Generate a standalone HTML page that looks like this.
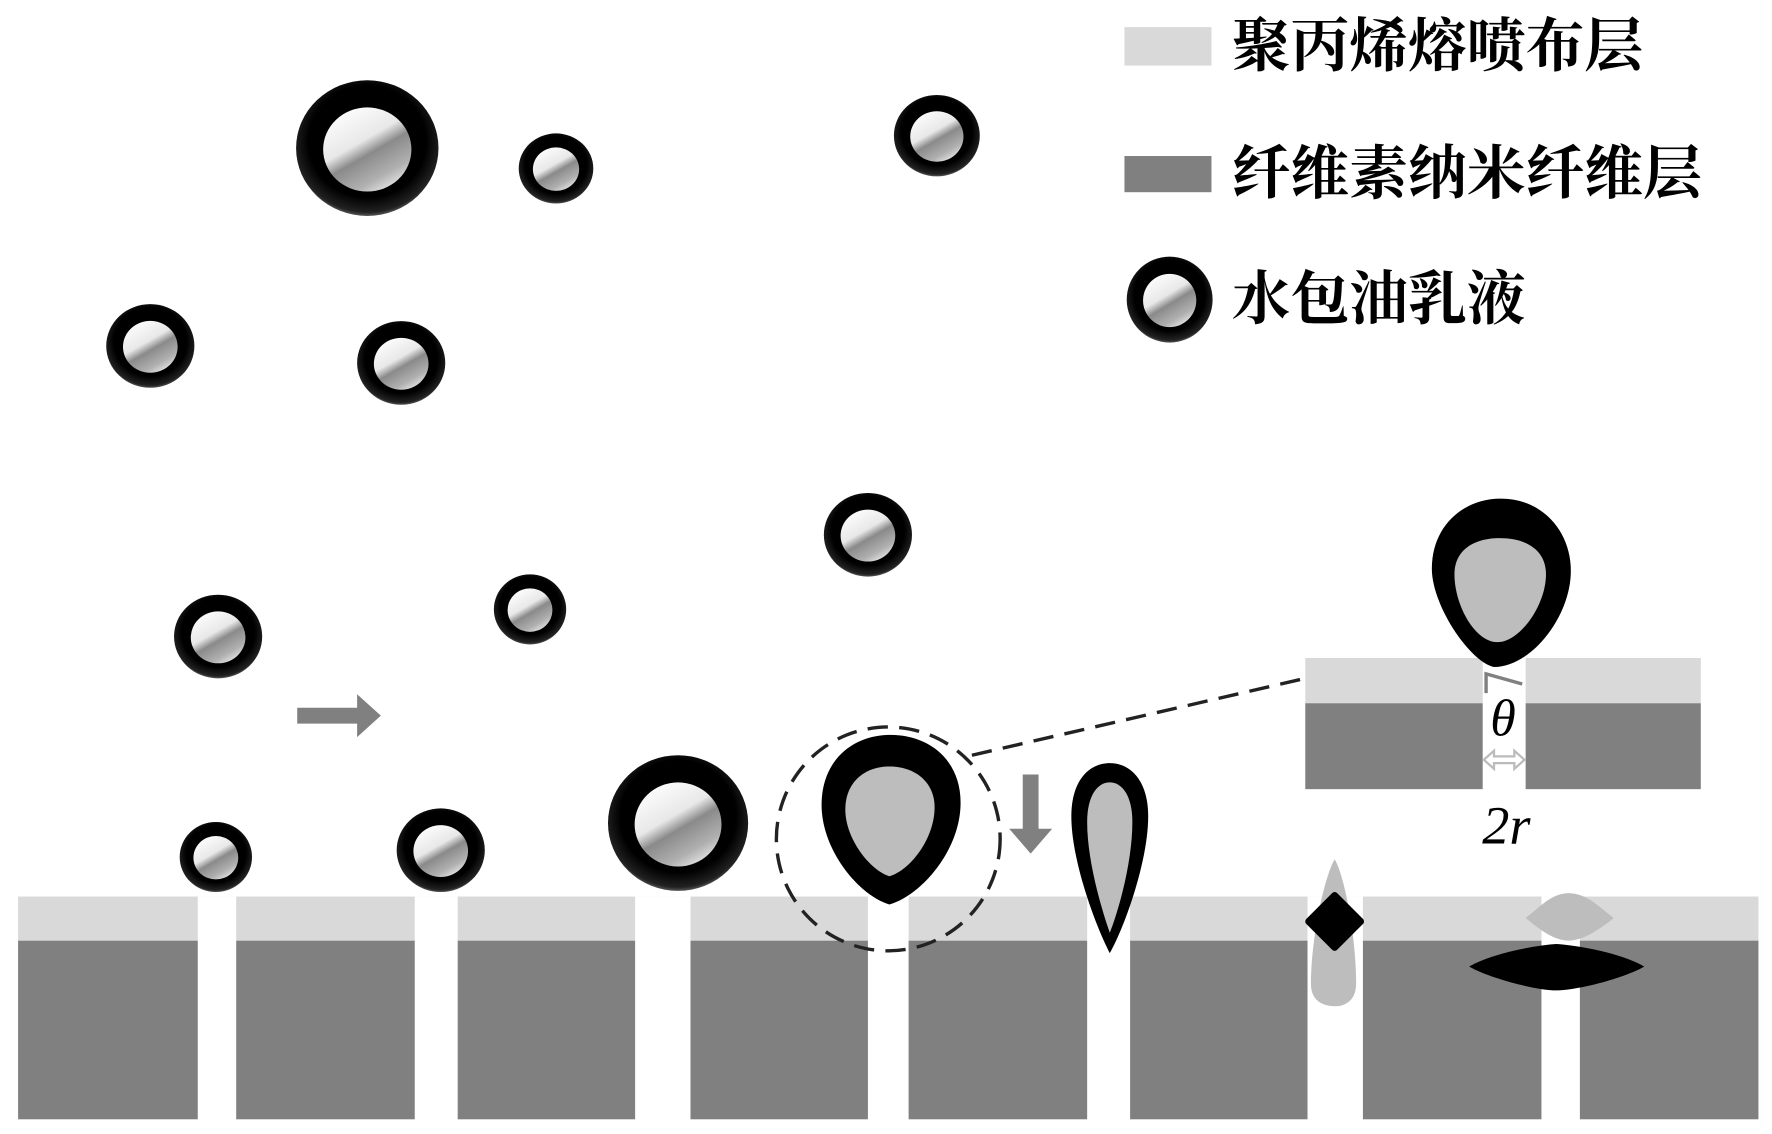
<!DOCTYPE html>
<html><head><meta charset="utf-8"><style>
html,body{margin:0;padding:0;background:#fff;}
svg{display:block;}
</style></head><body>
<svg width="1772" height="1134" viewBox="0 0 1568 1003" preserveAspectRatio="none" xmlns="http://www.w3.org/2000/svg">
<defs>
<radialGradient id="shell" cx="0.5" cy="0.45" r="0.55">
<stop offset="0.75" stop-color="#000"/><stop offset="0.95" stop-color="#222"/><stop offset="1" stop-color="#555"/>
</radialGradient>
<linearGradient id="core" x1="0.2" y1="0" x2="0.8" y2="1">
<stop offset="0" stop-color="#fff"/><stop offset="0.4" stop-color="#e8e8e8"/><stop offset="0.55" stop-color="#8a8a8a"/><stop offset="0.8" stop-color="#b0b0b0"/><stop offset="1" stop-color="#f0f0f0"/>
</linearGradient>
<g id="drop"><circle r="1" fill="url(#shell)"/><circle r="0.62" cy="0.02" fill="url(#core)"/></g>
</defs>
<rect width="1568" height="1003" fill="#fff"/>

<!-- legend -->
<rect x="995" y="24" width="77" height="34" fill="#d9d9d9"/>
<rect x="995" y="138" width="77" height="32" fill="#808080"/>
<use href="#drop" transform="translate(1035,265) scale(38,38)"/>
<g font-family="'Liberation Serif','Noto Serif CJK SC','Noto Sans CJK SC',serif" font-size="52" font-weight="bold" fill="#000" dominant-baseline="central">
<text x="1090" y="41">聚丙烯熔喷布层</text>
<text x="1090" y="154">纤维素纳米纤维层</text>
<text x="1090" y="265">水包油乳液</text>
</g>

<!-- droplets -->
<use href="#drop" transform="translate(325,131) scale(63,60)"/>
<use href="#drop" transform="translate(492,149) scale(33,31)"/>
<use href="#drop" transform="translate(829,120) scale(38,36)"/>
<use href="#drop" transform="translate(133,306) scale(39,37)"/>
<use href="#drop" transform="translate(355,321) scale(39,37)"/>
<use href="#drop" transform="translate(768,473) scale(39,37)"/>
<use href="#drop" transform="translate(193,563) scale(39,37)"/>
<use href="#drop" transform="translate(469,539) scale(32,31)"/>
<use href="#drop" transform="translate(191,758) scale(32,31)"/>
<use href="#drop" transform="translate(390,752) scale(39,37)"/>
<use href="#drop" transform="translate(600,728) scale(62,60)"/>

<!-- arrows -->
<path d="M263,626 H316 V614 L337,633 L316,652 V640 H263 Z" fill="#808080"/>
<path d="M905,685 H919 V733 H931 L912,755 L893,733 H905 Z" fill="#808080"/>

<!-- membrane -->
<g>
<rect x="16" y="793" width="1540" height="39" fill="#d9d9d9"/>
<rect x="16" y="832" width="1540" height="158" fill="#808080"/>
<rect x="175" y="793" width="34" height="200" fill="#fff"/>
<rect x="367" y="793" width="38" height="200" fill="#fff"/>
<rect x="562" y="793" width="49" height="200" fill="#fff"/>
<rect x="768" y="793" width="36" height="200" fill="#fff"/>
<rect x="962" y="793" width="38" height="200" fill="#fff"/>
<rect x="1157" y="793" width="49" height="200" fill="#fff"/>
<rect x="1364" y="793" width="34" height="200" fill="#fff"/>
</g>

<!-- circled droplet -->
<path d="M787,800 C760,792 727,752 727,712 C727,672 755,650 788,650 C822,650 850,672 850,710 C850,752 815,792 787,800 Z" fill="#000"/>
<path d="M787,775 C770,770 748,742 748,716 C748,692 765,678 787,678 C810,678 827,692 827,714 C827,742 805,770 787,775 Z" fill="#bdbdbd"/>
<circle cx="786" cy="742" r="99" fill="none" stroke="#222" stroke-width="3" stroke-dasharray="18,10"/>
<line x1="860" y1="668" x2="1155" y2="600" stroke="#222" stroke-width="3" stroke-dasharray="18,10"/>

<!-- elongated droplet -->
<path d="M982,843 C970,820 948,762 948,722 C948,690 964,675 982,675 C1000,675 1016,690 1016,722 C1016,762 995,820 982,843 Z" fill="#000"/>
<path d="M982,825 C975,805 962,762 962,727 C962,704 971,692 982,692 C993,692 1002,704 1002,727 C1002,762 990,805 982,825 Z" fill="#bdbdbd"/>

<!-- passing droplet -->
<path d="M1181,760 C1190,775 1200,830 1200,870 C1200,885 1190,890 1182,890 C1170,890 1160,885 1160,870 C1160,830 1172,775 1181,760 Z" fill="#bdbdbd"/>
<path d="M1181,792 L1204,815 L1181,838 L1158,815 Z" fill="#000" stroke="#000" stroke-width="6" stroke-linejoin="round"/>

<!-- spread droplets -->
<path d="M1388,790 C1405,790 1418,805 1428,812 C1418,820 1402,832 1388,832 C1374,832 1360,820 1350,812 C1360,805 1372,790 1388,790 Z" fill="#bdbdbd"/>
<path d="M1300,855 C1320,843 1360,836 1377,835 C1395,836 1435,843 1455,855 C1435,866 1395,876 1377,876 C1360,876 1320,866 1300,855 Z" fill="#000"/>

<!-- inset -->
<rect x="1155" y="582" width="350" height="40" fill="#d9d9d9"/>
<rect x="1155" y="622" width="350" height="76" fill="#808080"/>
<rect x="1312" y="582" width="38" height="118" fill="#fff"/>
<path d="M1322,590 C1300,585 1267,535 1267,503 C1267,465 1295,441 1328,441 C1365,441 1390,470 1390,505 C1390,545 1355,590 1322,590 Z" fill="#000"/>
<path d="M1325,568 C1305,568 1287,535 1287,508 C1287,486 1305,476 1327,476 C1350,476 1368,486 1368,508 C1368,535 1345,568 1325,568 Z" fill="#bdbdbd"/>
<path d="M1315,613 V596 L1347,605" fill="none" stroke="#808080" stroke-width="3"/>
<path d="M1313,672 L1322,664 V669 H1340 V664 L1349,672 L1340,680 V675 H1322 V680 Z" fill="none" stroke="#bbb" stroke-width="2"/>
<text x="1330" y="636" font-family="'Liberation Serif','DejaVu Serif',serif" font-style="italic" font-size="46" text-anchor="middle" dominant-baseline="central">θ</text>
<text x="1333" y="730" font-family="'Liberation Serif',serif" font-style="italic" font-size="48" text-anchor="middle" dominant-baseline="central">2r</text>
</svg>
</body></html>
